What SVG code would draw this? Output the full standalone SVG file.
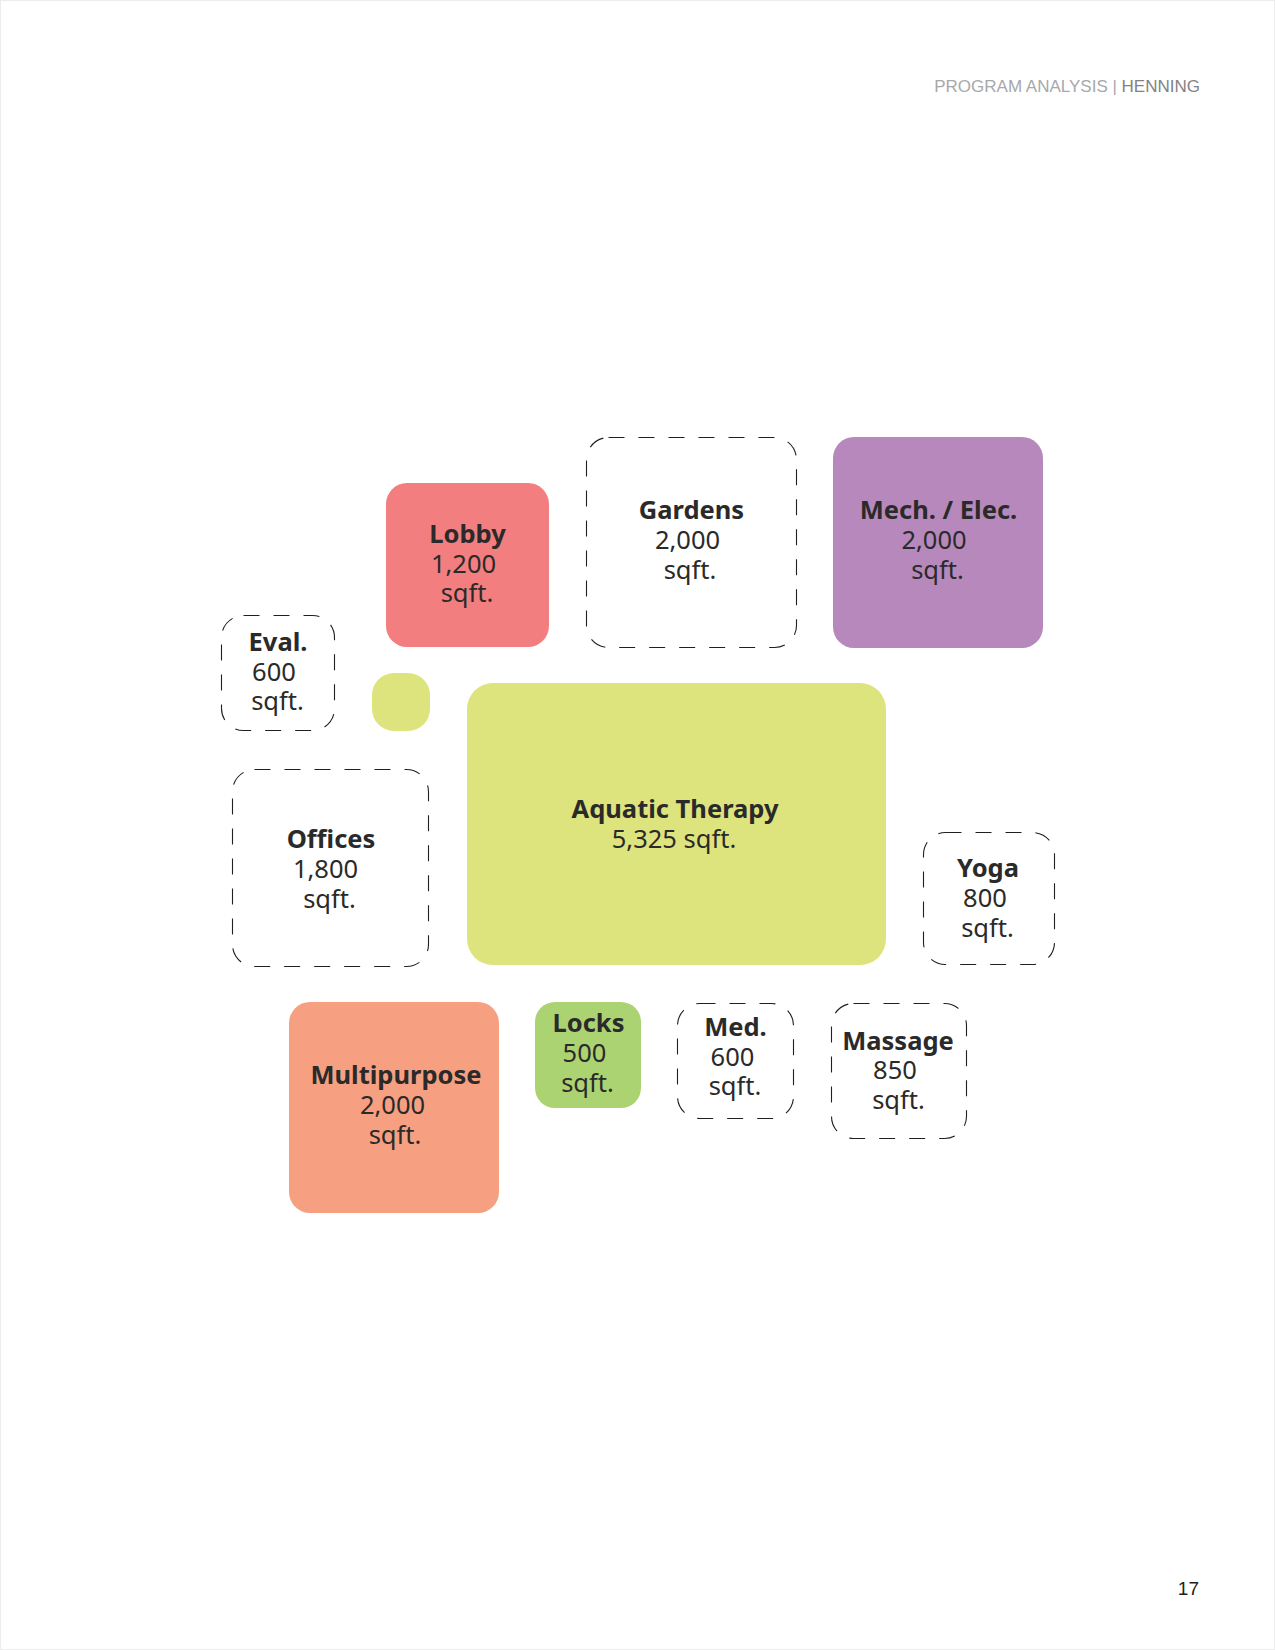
<svg xmlns="http://www.w3.org/2000/svg" width="1275" height="1650" viewBox="0 0 1275 1650">
<style>
.page{fill:#ffffff;stroke:#ececec;stroke-width:1}
.dash{fill:none;stroke:#231f20;stroke-width:1.1;stroke-dasharray:16 14}
.t{font-family:"Noto Sans","Open Sans","DejaVu Sans",sans-serif;font-size:25.5px;font-weight:700;fill:#2b2a2a;text-anchor:middle}
.v{font-family:"Noto Sans","Open Sans","DejaVu Sans",sans-serif;font-size:25.5px;font-weight:400;fill:#2b2a2a;text-anchor:middle}
.hdr{font-family:"Liberation Sans",Arial,sans-serif;font-size:17px;text-anchor:end}
.pg{font-family:"Liberation Sans",Arial,sans-serif;font-size:19px;fill:#231f20;text-anchor:end}
</style>
<rect class="page" x="0.5" y="0.5" width="1274" height="1649"/>
<g id="header">
<text class="hdr" x="1200" y="92"><tspan fill="#a7a8ab">PROGRAM ANALYSIS | </tspan><tspan fill="#828285">HENNING</tspan></text>
</g>
<g id="connectors"></g>
<g id="lobby">
<rect x="386" y="483" width="163" height="164" rx="21" fill="#f37e7f"/>
<text class="t" x="467.5" y="542.5">Lobby</text>
<text class="v" x="463.5" y="572.5">1,200</text>
<text class="v" x="467" y="601.5">sqft.</text>
</g>
<g id="gardens">
<rect class="dash" x="586.5" y="437.5" width="210" height="210" rx="22"/>
<text class="t" x="691.5" y="519">Gardens</text>
<text class="v" x="687.5" y="549">2,000</text>
<text class="v" x="690" y="578.5">sqft.</text>
</g>
<g id="mech-elec">
<rect x="833" y="437" width="210" height="211" rx="21" fill="#b788bb"/>
<text class="t" x="938.5" y="519">Mech. / Elec.</text>
<text class="v" x="934" y="549">2,000</text>
<text class="v" x="937.5" y="578.5">sqft.</text>
</g>
<g id="eval">
<rect class="dash" x="221.5" y="615.5" width="113" height="115" rx="22"/>
<text class="t" x="278" y="650.5">Eval.</text>
<text class="v" x="274" y="680.5">600</text>
<text class="v" x="277.5" y="710">sqft.</text>
</g>
<g id="small-pool">
<rect x="372" y="673" width="58" height="58" rx="22" fill="#dde47e"/>
</g>
<g id="aquatic-therapy">
<rect x="467" y="683" width="419" height="282" rx="26" fill="#dde47e"/>
<text class="t" x="675" y="818">Aquatic Therapy</text>
<text class="v" x="674" y="848">5,325 sqft.</text>
</g>
<g id="offices">
<rect class="dash" x="232.5" y="769.5" width="196" height="197" rx="22"/>
<text class="t" x="331" y="848">Offices</text>
<text class="v" x="325.5" y="878">1,800</text>
<text class="v" x="329.5" y="908">sqft.</text>
</g>
<g id="yoga">
<rect class="dash" x="923.5" y="832.5" width="131" height="132" rx="22"/>
<text class="t" x="988" y="877">Yoga</text>
<text class="v" x="985" y="907">800</text>
<text class="v" x="987.5" y="937">sqft.</text>
</g>
<g id="multipurpose">
<rect x="289" y="1002" width="210" height="211" rx="21" fill="#f6a081"/>
<text class="t" x="396" y="1084">Multipurpose</text>
<text class="v" x="392.5" y="1114">2,000</text>
<text class="v" x="395" y="1144">sqft.</text>
</g>
<g id="locks">
<rect x="535" y="1002" width="106" height="106" rx="20" fill="#acd372"/>
<text class="t" x="588.5" y="1032">Locks</text>
<text class="v" x="584.5" y="1062">500</text>
<text class="v" x="587.5" y="1092">sqft.</text>
</g>
<g id="med">
<rect class="dash" x="677.5" y="1003.5" width="116" height="115" rx="22"/>
<text class="t" x="735.5" y="1035.5">Med.</text>
<text class="v" x="732.5" y="1065.5">600</text>
<text class="v" x="735" y="1095">sqft.</text>
</g>
<g id="massage">
<rect class="dash" x="831.5" y="1003.5" width="135" height="135" rx="22"/>
<text class="t" x="898" y="1050">Massage</text>
<text class="v" x="895" y="1079">850</text>
<text class="v" x="898.5" y="1109">sqft.</text>
</g>
<g id="page-number">
<text class="pg" x="1199" y="1595">17</text>
</g>
</svg>
